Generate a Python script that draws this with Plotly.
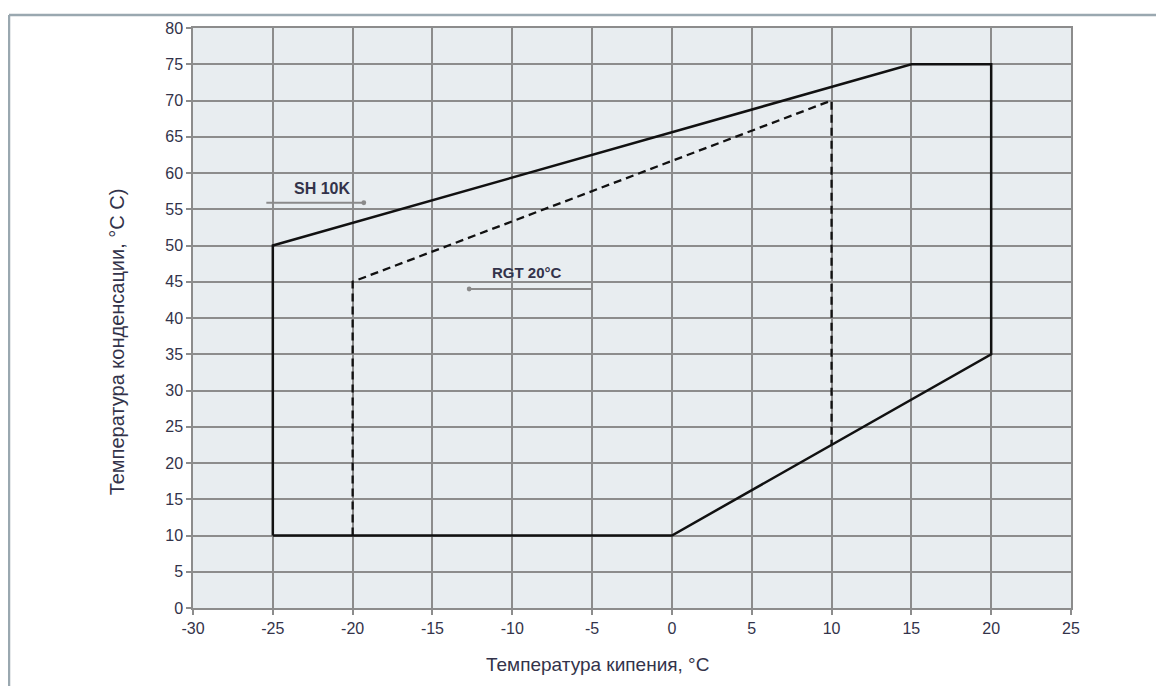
import plotly.graph_objects as go

# Data
envelope_x = [-25, -25, 15, 20, 20, 0, -25]
envelope_y = [10, 50, 75, 75, 35, 10, 10]
rgt_x = [-20, -20, 10, 10]
rgt_y = [10, 45, 70, 22.5]
x_ticks = [-30, -25, -20, -15, -10, -5, 0, 5, 10, 15, 20, 25]
x_ticklabels = ["-30", "-25", "-20", "-15", "-10", "-5", "0", "5", "10", "15", "20", "25"]
y_ticks = [0, 5, 10, 15, 20, 25, 30, 35, 40, 45, 50, 55, 60, 65, 70, 75, 80]
sh_label = "SH 10K"
rgt_label = "RGT 20°C"
x_title = "Температура кипения, °C"
y_title = "Температура конденсации, °C С)"

FONT = "Liberation Sans Narrow, Arial Narrow, Liberation Sans, sans-serif"
TXT = "#33334a"

fig = go.Figure()
fig.add_trace(go.Scatter(x=envelope_x, y=envelope_y, mode="lines",
                         line=dict(color="#111111", width=2.5), showlegend=False,
                         hoverinfo="skip"))
fig.add_trace(go.Scatter(x=rgt_x, y=rgt_y, mode="lines",
                         line=dict(color="#111111", width=2.3, dash="8px,5px"),
                         showlegend=False, hoverinfo="skip"))

# page has an 8px body margin; figure coordinates = screen - 8
OFF = 8
W, H = 1164, 686
L, R, T, B = 193 - OFF, 1164 - 1071 + OFF, 25 - OFF, 686 - 608 + OFF
pw, ph = W - L - R, H - T - B

def px(xs):
    return (xs - OFF - L) / pw

def py(ys):
    return (H - B - (ys - OFF)) / ph

fig.update_layout(
    width=W, height=H,
    margin=dict(l=L, r=R, t=T, b=B),
    paper_bgcolor="white",
    plot_bgcolor="#e8edf0",
    font=dict(family=FONT, size=16, color=TXT),
    xaxis=dict(range=[-30, 25], tickvals=x_ticks, ticktext=x_ticklabels,
               showgrid=True, gridcolor="#8c8c8c", gridwidth=1.5, zeroline=False,
               ticks="outside", ticklen=5, tickcolor="#8c8c8c", tickwidth=1.5,
               showline=True, linecolor="#8c8c8c", linewidth=1.5, mirror=True,
               tickfont=dict(size=16)),
    yaxis=dict(range=[0, 80], tickvals=y_ticks, showgrid=True,
               gridcolor="#8c8c8c", gridwidth=1.5, zeroline=False,
               ticks="outside", ticklen=5, tickcolor="#8c8c8c", tickwidth=1.5,
               showline=True, linecolor="#8c8c8c", linewidth=1.5, mirror=True,
               tickfont=dict(size=16)),
)

# SH 10K arrow (pointing right) and label
fig.add_annotation(x=-19.3, y=55.9, ax=-25.5, ay=55.9, xref="x", yref="y",
                   axref="x", ayref="y", showarrow=True, arrowhead=6,
                   arrowsize=0.6, arrowwidth=2, arrowcolor="#8a8a8a", text="")
fig.add_annotation(x=-21.9, y=57.9, xref="x", yref="y", text="<b>" + sh_label + "</b>",
                   showarrow=False, font=dict(size=16, color=TXT))
# RGT 20°C arrow (pointing left) and label
fig.add_annotation(x=-12.7, y=44.0, ax=-4.9, ay=44.0, xref="x", yref="y",
                   axref="x", ayref="y", showarrow=True, arrowhead=6,
                   arrowsize=0.6, arrowwidth=2, arrowcolor="#8a8a8a", text="")
fig.add_annotation(x=-9.1, y=46.3, xref="x", yref="y", text="<b>" + rgt_label + "</b>",
                   showarrow=False, font=dict(size=15, color=TXT))

# Axis titles
fig.add_annotation(x=px(597), y=py(665), xref="paper", yref="paper",
                   xanchor="center", yanchor="middle",
                   text=x_title, showarrow=False,
                   font=dict(size=19, color=TXT))
fig.add_annotation(x=px(117), y=py(341), xref="paper", yref="paper",
                   xanchor="center", yanchor="middle",
                   text=y_title, showarrow=False, textangle=-90,
                   font=dict(size=20, color=TXT))

# Outer frame (left and top edges)
fig.add_shape(type="line", xref="paper", yref="paper",
              x0=px(9), y0=py(H + 10), x1=px(9), y1=py(12),
              line=dict(color="#9aa8b0", width=2.5))
fig.add_shape(type="line", xref="paper", yref="paper",
              x0=px(9), y0=py(12), x1=px(W + 10), y1=py(12),
              line=dict(color="#9aa8b0", width=2.5))

fig.write_html("out.html")
